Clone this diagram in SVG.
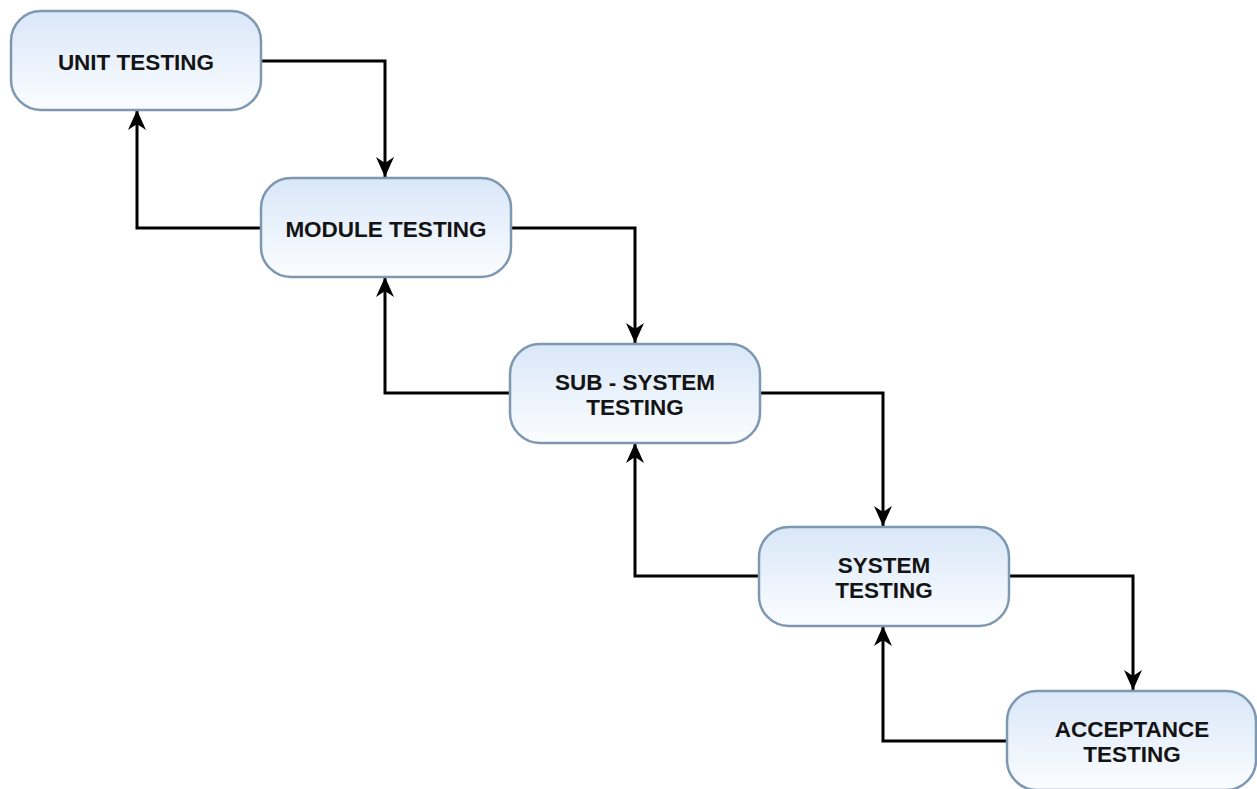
<svg xmlns="http://www.w3.org/2000/svg" width="1257" height="789" viewBox="0 0 1257 789">
<style>
.box{fill:url(#g);stroke:#7f98b2;stroke-width:2.5}
.lbl{font-family:"Liberation Sans",Arial,sans-serif;font-weight:bold;font-size:22.5px;fill:#141414;text-anchor:middle}
.edge{fill:none;stroke:#000;stroke-width:3;marker-end:url(#arr)}
</style>
<defs>
<linearGradient id="g" x1="0" y1="0" x2="0" y2="1">
<stop offset="0" stop-color="#d9e7f8"/>
<stop offset="1" stop-color="#fbfdff"/>
</linearGradient>
<marker id="arr" viewBox="0 0 20 20" refX="20" refY="10" markerWidth="20" markerHeight="20" markerUnits="userSpaceOnUse" orient="auto">
<path d="M0,1 L20,10 L0,19 L6,10 Z" fill="#000"/>
</marker>
</defs>
<rect width="1257" height="789" fill="#fff"/>
<g id="connectors">
<path class="edge" d="M262,61 H385 V177"/>
<path class="edge" d="M261,228 H137 V110"/>
<path class="edge" d="M512,228 H635 V343"/>
<path class="edge" d="M510,393 H385 V277"/>
<path class="edge" d="M761,393 H883 V526"/>
<path class="edge" d="M759,576 H635 V443"/>
<path class="edge" d="M1010,576 H1133 V690"/>
<path class="edge" d="M1007,741 H883 V626"/>
</g>
<g id="unit">
<rect class="box" x="11" y="11" width="250" height="99" rx="30"/>
<text class="lbl" x="136" y="70">UNIT TESTING</text>
</g>
<g id="module">
<rect class="box" x="261" y="178" width="250" height="99" rx="30"/>
<text class="lbl" x="386" y="237">MODULE TESTING</text>
</g>
<g id="subsystem">
<rect class="box" x="510" y="344" width="250" height="99" rx="30"/>
<text class="lbl" x="635" y="390">SUB - SYSTEM</text>
<text class="lbl" x="635" y="415">TESTING</text>
</g>
<g id="system">
<rect class="box" x="759" y="527" width="250" height="99" rx="30"/>
<text class="lbl" x="884" y="573">SYSTEM</text>
<text class="lbl" x="884" y="598">TESTING</text>
</g>
<g id="acceptance">
<rect class="box" x="1007" y="691" width="249" height="99" rx="30"/>
<text class="lbl" x="1132" y="737">ACCEPTANCE</text>
<text class="lbl" x="1132" y="762">TESTING</text>
</g>
</svg>
